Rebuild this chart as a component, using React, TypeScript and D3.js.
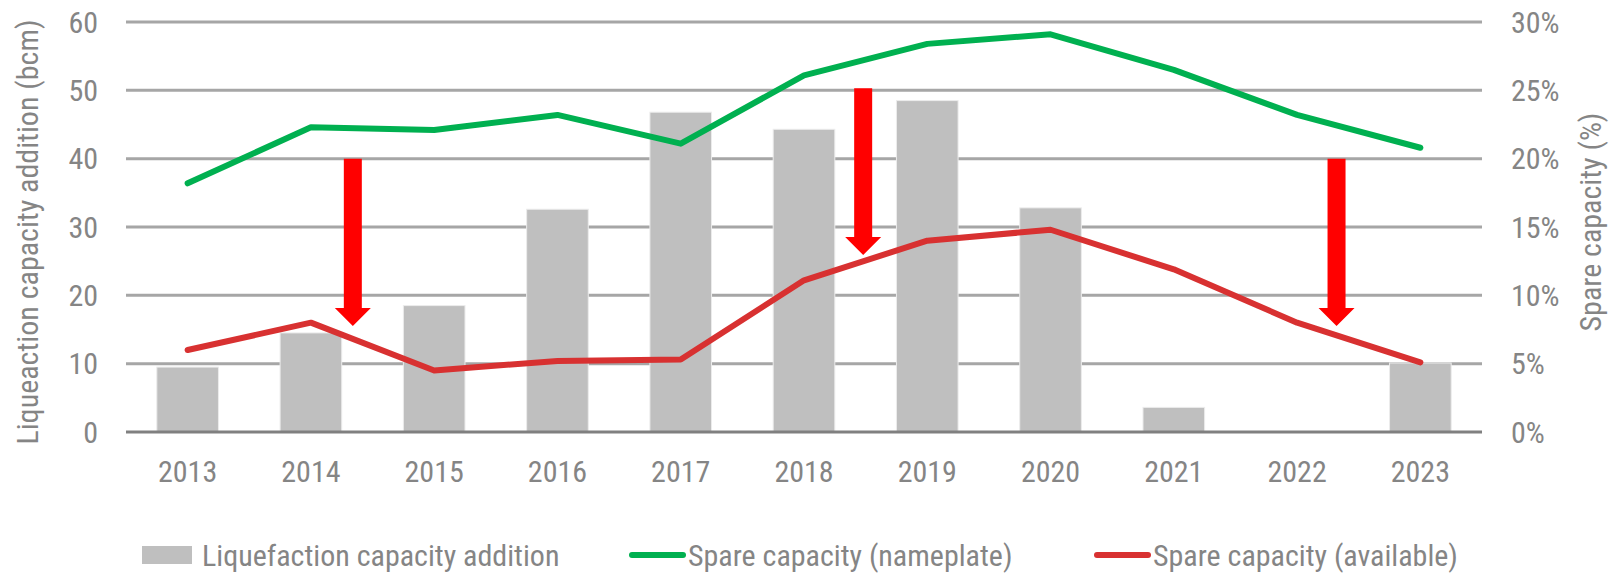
import React, { useEffect, useRef } from 'react';
import * as d3 from 'd3';

// Chart data
const years = ['2013', '2014', '2015', '2016', '2017', '2018', '2019', '2020', '2021', '2022', '2023'];
const capacityAddition = [9.5, 14.5, 18.5, 32.6, 46.8, 44.3, 48.5, 32.8, 3.6, 0, 10.1]; // bcm
const spareNameplate = [18.2, 22.3, 22.1, 23.2, 21.1, 26.1, 28.4, 29.1, 26.5, 23.2, 20.8]; // %
const spareAvailable = [6.0, 8.0, 4.5, 5.2, 5.3, 11.1, 14.0, 14.8, 11.9, 8.0, 5.1]; // %
const leftTicks = [0, 10, 20, 30, 40, 50, 60];
const rightTicks = [0, 5, 10, 15, 20, 25, 30];
// arrows: position in category index units, from / to value on the left axis
const arrowAt = [1.34, 5.48, 9.32];
const arrowFrom = [40, 50.3, 40];
const arrowTo = [15.5, 25.9, 15.5];

const seriesNames = ['Liquefaction capacity addition', 'Spare capacity (nameplate)', 'Spare capacity (available)'];

const FONT = "'Liberation Sans Narrow', 'Arial Narrow', 'Roboto Condensed', 'DejaVu Sans Condensed', sans-serif";
const TEXT = '#858585';
const BAR = '#bfbfbf';
const GREEN = '#00b050';
const RED = '#d83131';

export default function App() {
  const ref = useRef<SVGSVGElement>(null);

  useEffect(() => {
    const width = 1617;
    const height = 576;
    const left = 126;
    const right = 1482;
    const top = 22;
    const bottom = 432;

    const svg = d3.select(ref.current);
    svg.selectAll('*').remove();
    svg.attr('width', width).attr('height', height);

    const x = d3.scaleBand<string>()
      .domain(years)
      .range([left, right])
      .paddingInner(0.5)
      .paddingOuter(0.25);
    // index scale for annotations between categories
    const xi = d3.scaleLinear().domain([-0.5, years.length - 0.5]).range([left, right]);
    const yL = d3.scaleLinear().domain([0, 60]).range([bottom, top]);
    const yR = d3.scaleLinear().domain([0, 30]).range([bottom, top]);

    // gridlines
    svg.append('g')
      .selectAll('line')
      .data(leftTicks.filter(d => d > 0))
      .enter()
      .append('line')
      .attr('x1', left)
      .attr('x2', right)
      .attr('y1', d => yL(d))
      .attr('y2', d => yL(d))
      .attr('stroke', '#a6a6a6')
      .attr('stroke-width', 3);

    // bars
    svg.append('g')
      .selectAll('rect')
      .data(capacityAddition)
      .enter()
      .append('rect')
      .attr('x', (d, i) => x(years[i])!)
      .attr('y', d => yL(d))
      .attr('width', x.bandwidth())
      .attr('height', d => yL(0) - yL(d))
      .attr('fill', BAR)
      .attr('stroke', '#ececec')
      .attr('stroke-width', d => (d > 0 ? 1 : 0));

    // baseline
    svg.append('line')
      .attr('x1', left)
      .attr('x2', right)
      .attr('y1', yL(0))
      .attr('y2', yL(0))
      .attr('stroke', '#808080')
      .attr('stroke-width', 3);

    // lines
    const line = d3.line<number>()
      .x((d, i) => x(years[i])! + x.bandwidth() / 2)
      .y(d => yR(d));

    svg.append('path')
      .attr('d', line(spareNameplate))
      .attr('fill', 'none')
      .attr('stroke', GREEN)
      .attr('stroke-width', 6)
      .attr('stroke-linejoin', 'round')
      .attr('stroke-linecap', 'round');

    svg.append('path')
      .attr('d', line(spareAvailable))
      .attr('fill', 'none')
      .attr('stroke', RED)
      .attr('stroke-width', 6)
      .attr('stroke-linejoin', 'round')
      .attr('stroke-linecap', 'round');

    // red arrows
    const shaft = 9;
    const head = 18;
    const headLen = 18;
    arrowAt.forEach((a, i) => {
      const cx = xi(a);
      const y0 = yL(arrowFrom[i]);
      const y1 = yL(arrowTo[i]);
      const pts: [number, number][] = [
        [cx - shaft, y0],
        [cx + shaft, y0],
        [cx + shaft, y1 - headLen],
        [cx + head, y1 - headLen],
        [cx, y1],
        [cx - head, y1 - headLen],
        [cx - shaft, y1 - headLen],
      ];
      svg.append('path')
        .attr('d', 'M' + pts.map(p => p.join(',')).join('L') + 'Z')
        .attr('fill', '#ff0000');
    });

    // left axis labels
    svg.append('g')
      .selectAll('text')
      .data(leftTicks)
      .enter()
      .append('text')
      .attr('x', 98)
      .attr('y', d => yL(d))
      .attr('dy', '0.35em')
      .attr('text-anchor', 'end')
      .text(d => d);

    // right axis labels
    svg.append('g')
      .selectAll('text')
      .data(rightTicks)
      .enter()
      .append('text')
      .attr('x', 1511)
      .attr('y', d => yR(d))
      .attr('dy', '0.35em')
      .attr('text-anchor', 'start')
      .text(d => d + '%');

    // category labels
    svg.append('g')
      .selectAll('text')
      .data(years)
      .enter()
      .append('text')
      .attr('x', d => x(d)! + x.bandwidth() / 2)
      .attr('y', 482)
      .attr('text-anchor', 'middle')
      .text(d => d);

    // axis titles
    svg.append('text')
      .attr('transform', 'translate(38,' + 232 + ') rotate(-90)')
      .attr('text-anchor', 'middle')
      .text('Liqueaction capacity addition (bcm)');

    svg.append('text')
      .attr('transform', 'translate(1601,' + 222 + ') rotate(-90)')
      .attr('text-anchor', 'middle')
      .text('Spare capacity (%)');

    // legend
    const ly = 555;
    const legend = svg.append('g');
    legend.append('rect')
      .attr('x', 142)
      .attr('y', ly - 9)
      .attr('width', 50)
      .attr('height', 18)
      .attr('fill', BAR);
    legend.append('text')
      .attr('x', 202)
      .attr('y', ly)
      .attr('dy', '0.35em')
      .text(seriesNames[0]);

    legend.append('line')
      .attr('x1', 632)
      .attr('x2', 683)
      .attr('y1', ly)
      .attr('y2', ly)
      .attr('stroke', GREEN)
      .attr('stroke-width', 6)
      .attr('stroke-linecap', 'round');
    legend.append('text')
      .attr('x', 688)
      .attr('y', ly)
      .attr('dy', '0.35em')
      .text(seriesNames[1]);

    legend.append('line')
      .attr('x1', 1097)
      .attr('x2', 1148)
      .attr('y1', ly)
      .attr('y2', ly)
      .attr('stroke', RED)
      .attr('stroke-width', 6)
      .attr('stroke-linecap', 'round');
    legend.append('text')
      .attr('x', 1153)
      .attr('y', ly)
      .attr('dy', '0.35em')
      .text(seriesNames[2]);

    svg.selectAll('text')
      .attr('fill', TEXT)
      .style('font-family', FONT)
      .style('font-size', '30px');
  }, []);

  return (
    <svg ref={ref} style={{ position: 'absolute', left: 0, top: 0, background: '#fff' }} />
  );
}
